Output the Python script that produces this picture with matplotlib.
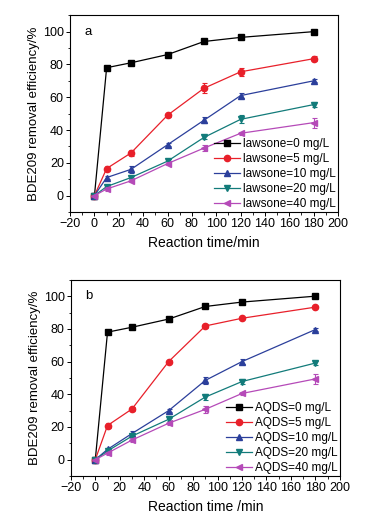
import numpy as np
import matplotlib.pyplot as plt
from matplotlib.ticker import MultipleLocator

plt.rcParams['font.family'] = ['Liberation Sans', 'DejaVu Sans']

# reaction time (min)
t = [0, 10, 30, 60, 90, 120, 180]

# panel a: lawsone
law_0 = [0, 78, 81, 86, 94, 96.5, 100]
law_5 = [0, 16.5, 26, 49, 65.5, 75.5, 83.5]
law_10 = [0, 11, 16, 31, 46, 61, 70]
law_20 = [0, 5.5, 11, 21, 35.5, 46.5, 55.5]
law_40 = [0, 4, 9, 19.5, 29, 38, 44.5]
law_0_err = [0, 0.5, 0.5, 1, 0.5, 0.5, 0.5]
law_5_err = [0, 1.5, 2, 1, 3, 2.5, 1.5]
law_10_err = [0, 1, 2, 1, 2, 1.5, 1]
law_20_err = [0, 1, 1, 1.5, 1, 2.5, 1.5]
law_40_err = [0, 1, 1, 1, 2, 1, 3]

# panel b: AQDS
aq_0 = [0, 78, 81, 86, 93.7, 96.4, 100]
aq_5 = [0, 20.9, 31, 60, 81.8, 86.5, 93.3]
aq_10 = [0, 6.3, 16, 30, 48.5, 60, 79.6]
aq_20 = [0, 5.3, 14.4, 24.7, 38.3, 47.8, 59.1]
aq_40 = [0, 4, 12, 22.3, 30.8, 40.5, 49.4]
aq_0_err = [0, 0.5, 0.5, 1.5, 0.5, 0.5, 0.5]
aq_5_err = [0, 1.5, 1, 1, 1, 0.5, 0.5]
aq_10_err = [0, 1, 1.5, 1, 2, 1.5, 1]
aq_20_err = [0, 1, 1, 1, 2, 1.5, 1]
aq_40_err = [0, 1, 1, 1, 2, 1, 3]

doses = [0, 5, 10, 20, 40]
colors = ['#000000', '#e8202a', '#2b3f9b', '#127b7a', '#b54ab8']
markers = ['s', 'o', '^', 'v', '<']

fig = plt.figure(figsize=(3.67, 5.26), dpi=100)
ax_a = fig.add_axes([0.191, 0.597, 0.730, 0.374])
ax_b = fig.add_axes([0.193, 0.095, 0.733, 0.373])

panels = [
    (ax_a, 'a', 'lawsone', 'Reaction time/min',
     [law_0, law_5, law_10, law_20, law_40],
     [law_0_err, law_5_err, law_10_err, law_20_err, law_40_err]),
    (ax_b, 'b', 'AQDS', 'Reaction time /min',
     [aq_0, aq_5, aq_10, aq_20, aq_40],
     [aq_0_err, aq_5_err, aq_10_err, aq_20_err, aq_40_err]),
]

for ax, tag, name, xlab, series, errs in panels:
    for y, e, d, c, m in zip(series, errs, doses, colors, markers):
        ax.errorbar(t, y, yerr=e, fmt='none', ecolor=c, elinewidth=0.8,
                    capsize=1.8, capthick=0.8)
        ax.plot(t, y, color=c, marker=m, markersize=4.5, lw=0.9,
                label=f'{name}={d} mg/L')
    ax.set_xlim(-20, 200)
    ax.set_ylim(-10, 110)
    ax.xaxis.set_major_locator(MultipleLocator(20))
    ax.xaxis.set_minor_locator(MultipleLocator(10))
    ax.yaxis.set_minor_locator(MultipleLocator(10))
    ax.set_yticks([0, 20, 40, 60, 80, 100])
    ax.tick_params(which='major', direction='out', length=3, width=0.7,
                   labelsize=9, pad=1.5)
    ax.tick_params(which='minor', direction='out', length=1.8, width=0.6)
    for s in ax.spines.values():
        s.set_linewidth(0.8)
    ax.set_xlabel(xlab, fontsize=10, labelpad=4)
    ax.set_ylabel('BDE209 removal efficiency/%', fontsize=9.5, labelpad=2)
    ax.text(0.055, 0.9, tag, transform=ax.transAxes, fontsize=9.5)
    ax.legend(loc='lower right', frameon=False, fontsize=8.5,
              handlelength=2.2, handletextpad=0.3, labelspacing=0.25,
              borderaxespad=0.0, borderpad=0.15)

fig.savefig('out.png', dpi=100)
